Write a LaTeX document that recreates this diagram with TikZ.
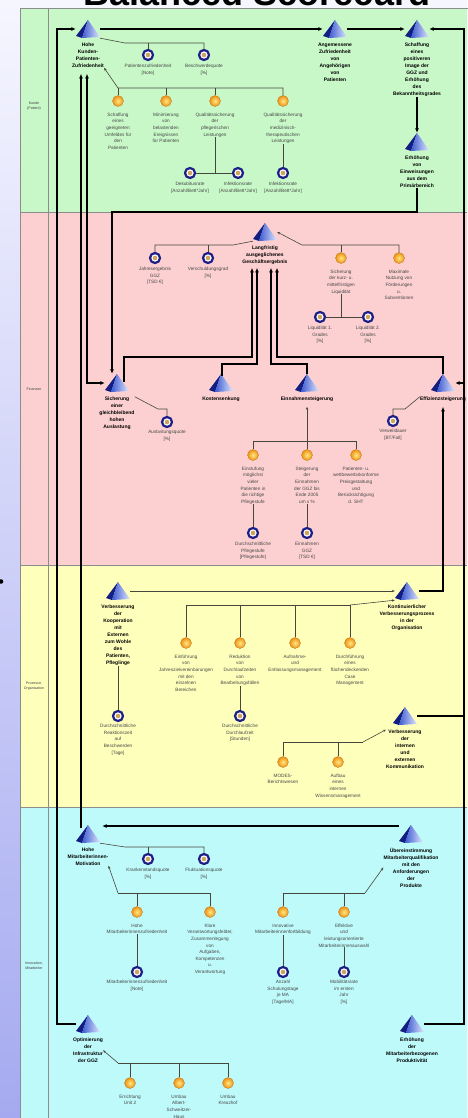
\documentclass[tikz,border=0pt]{standalone}
\usepackage{fontspec}
\setmainfont{Liberation Sans}
\usepackage{tikz}
\usetikzlibrary{positioning,calc,arrows.meta}

\definecolor{gruenbg}{RGB}{200,248,200}
\definecolor{rosabg}{RGB}{252,208,208}
\definecolor{gelbbg}{RGB}{255,255,188}
\definecolor{tuerkisbg}{RGB}{190,250,250}
\definecolor{lilaoben}{RGB}{246,246,255}
\definecolor{lilaunten}{RGB}{165,170,240}
\definecolor{zielring}{RGB}{30,30,135}
\definecolor{zielkern}{RGB}{205,165,90}
\definecolor{kugelhell}{RGB}{255,232,130}
\definecolor{kugel}{RGB}{238,145,20}
\definecolor{pyrdunkel}{RGB}{20,30,130}
\definecolor{pyrmittel}{RGB}{60,90,210}
\definecolor{pyrhell}{RGB}{225,232,252}
\definecolor{linie}{RGB}{70,70,60}

\tikzset{
  pyr/.style={minimum width=24pt, minimum height=18pt, inner sep=0pt, path picture={
    \begin{scope}[shift={(path picture bounding box.center)}]
      \fill[pyrdunkel] (0pt,9pt) -- (-12pt,-7pt) -- (-6pt,-9pt) -- cycle;
      \shade[left color=pyrmittel, right color=pyrhell] (0pt,9pt) -- (-6pt,-9pt) -- (12pt,-8pt) -- cycle;
    \end{scope}}},
  massn/.style={circle, inner sep=0pt, minimum size=11pt, inner color=kugelhell, outer color=kugel, draw=kugel!80!black, line width=0.3pt},
  ziel/.style={circle, inner sep=0pt, minimum size=10pt, draw=zielring, line width=2.2pt, fill=white,
    path picture={\fill[zielkern] (path picture bounding box.center) circle (2.3pt);}},
  ttext/.style={font=\bfseries\fontsize{5}{7}\selectfont, align=center, inner sep=0pt},
  ktext/.style={font=\fontsize{4.7}{6.6}\selectfont, align=center, inner sep=0pt, text=black!72},
  btext/.style={font=\fontsize{3.6}{4.6}\selectfont, align=center, inner sep=0pt, text=black!75},
  dick/.style={draw=black, line width=1.5pt, -{Latex[length=4.5pt,width=4pt]}},
  zweiseitig/.style={draw=black, line width=1.5pt, {Latex[length=4.5pt,width=4pt]}-{Latex[length=4.5pt,width=4pt]}},
  duenn/.style={draw=linie, line width=0.6pt},
  pfeil/.style={-{Stealth[length=3pt,width=2.4pt]}}
}

\begin{document}
\begin{tikzpicture}[x=1pt,y=-1pt]
	\useasboundingbox (0,0) rectangle (467,1118);
	\shade[top color=lilaoben, bottom color=lilaunten] (0,0) rectangle (467,1118);
	\fill[gruenbg] (20,8) rectangle (467,212);
	\fill[rosabg] (20,212) rectangle (467,565);
	\fill[gelbbg] (20,565) rectangle (467,807);
	\fill[tuerkisbg] (20,807) rectangle (467,1118);
	\draw[black!45, line width=0.4pt] (20,8) rectangle (470,1122);
	\draw[black!45, line width=0.4pt] (48,8) -- (48,1118);
	\draw[black!45, line width=0.4pt] (20,212) -- (467,212) (20,565) -- (467,565) (20,807) -- (467,807);
	\fill[black] (1,581.5) circle (2.3);

	\node[font=\bfseries\fontsize{36}{36}\selectfont, anchor=base] (titel) at (257,6) {Balanced Scorecard};

	\node[btext] (bk) at (34,106) {Kunde\\(Patient)};
	\node[btext] (bf) at (34,389) {Finanzen};
	\node[btext] (bp) at (34,686) {Prozesse,\\Organisation};
	\node[btext] (bi) at (34,966) {Innovation,\\Mitarbeiter};

	\node[pyr] (t1) at (88,29) {};
	\node[ttext, below=4.5pt of t1] (t1l) {Hohe\\Kunden-\\Patienten-\\Zufriedenheit};
	\node[pyr] (t2) at (335,29) {};
	\node[ttext, below=4.5pt of t2] (t2l) {Angemessene\\Zufriedenheit\\von\\Angehörigen\\von\\Patienten};
	\node[pyr] (t3) at (417,29) {};
	\node[ttext, below=4.5pt of t3] (t3l) {Schaffung\\eines\\positiveren\\Image der\\GGZ und\\Erhöhung\\des\\Bekanntheitsgrades};
	\node[pyr] (t4) at (417,142) {};
	\node[ttext, below=4.5pt of t4] (t4l) {Erhöhung\\von\\Einweisungen\\aus dem\\Primärbereich};

	\node[ziel] (k1) at (148,55) {};
	\node[ktext, below=3pt of k1] (k1l) {Patientenzufriedenheit\\{}[Note]};
	\node[ziel] (k2) at (204,55) {};
	\node[ktext, below=3pt of k2] (k2l) {Beschwerdequote\\{}[\%]};

	\node[massn] (o1) at (118,101) {};
	\node[ktext, below=6pt of o1] (o1l) {Schaffung\\eines\\geeigneten\\Umfeldes für\\den\\Patienten};
	\node[massn] (o2) at (166,101) {};
	\node[ktext, below=6pt of o2] (o2l) {Minimierung\\von\\belastenden\\Ereignissen\\für Patienten};
	\node[massn] (o3) at (215,101) {};
	\node[ktext, below=6pt of o3] (o3l) {Qualitätssicherung\\der\\pflegerischen\\Leistungen};
	\node[massn] (o4) at (283,101) {};
	\node[ktext, below=6pt of o4] (o4l) {Qualitätssicherung\\der\\medizinisch-\\therapeutischen\\Leistungen};

	\node[ziel] (k3) at (190,173) {};
	\node[ktext, below=3pt of k3] (k3l) {Dekubitusrate\\{}[Anzahl/Bett*Jahr]};
	\node[ziel] (k4) at (238,173) {};
	\node[ktext, below=3pt of k4] (k4l) {Infektionsrate\\{}[Anzahl/Bett*Jahr]};
	\node[ziel] (k5) at (283,173) {};
	\node[ktext, below=3pt of k5] (k5l) {Infektionsrate\\{}[Anzahl/Bett*Jahr]};

	\node[pyr] (t5) at (265,232) {};
	\node[ttext, below=4.5pt of t5] (t5l) {Langfristig\\ausgeglichenes\\Geschäftsergebnis};
	\node[ziel] (k6) at (155,258) {};
	\node[ktext, below=3pt of k6] (k6l) {Jahresergebnis\\GGZ\\{}[TSD €]};
	\node[ziel] (k7) at (208,258) {};
	\node[ktext, below=3pt of k7] (k7l) {Verschuldungsgrad\\{}[\%]};
	\node[massn] (o5) at (341,258) {};
	\node[ktext, below=6pt of o5] (o5l) {Sicherung\\der kurz- u.\\mittelfristigen\\Liquidität};
	\node[massn] (o6) at (399,258) {};
	\node[ktext, below=6pt of o6] (o6l) {Maximale\\Nutzung von\\Förderungen\\u.\\Subventionen};
	\node[ziel] (k8) at (320,317) {};
	\node[ktext, below=3pt of k8] (k8l) {Liquidität 1.\\Grades\\{}[\%]};
	\node[ziel] (k9) at (368,317) {};
	\node[ktext, below=3pt of k9] (k9l) {Liquidität 2.\\Grades\\{}[\%]};

	\node[pyr] (s1) at (117,383) {};
	\node[ttext, below=4.5pt of s1] (s1l) {Sicherung\\einer\\gleichbleibend\\hohen\\Auslastung};
	\node[pyr] (s2) at (221,383) {};
	\node[ttext, below=4.5pt of s2] (s2l) {Kostensenkung};
	\node[pyr] (s3) at (307,383) {};
	\node[ttext, below=4.5pt of s3] (s3l) {Einnahmensteigerung};
	\node[pyr] (s4) at (443,383) {};
	\node[ttext, below=4.5pt of s4] (s4l) {Effizienzsteigerung};
	\node[ziel] (k10) at (167,422) {};
	\node[ktext, below=2pt of k10] (k10l) {Auslastungsquote\\{}[\%]};
	\node[ziel] (k11) at (393,421) {};
	\node[ktext, below=2pt of k11] (k11l) {Verweildauer\\{}[BT/Fall]};

	\node[massn] (o7) at (253,455) {};
	\node[ktext, below=6pt of o7] (o7l) {Einstufung\\möglichst\\vieler\\Patienten in\\die richtige\\Pflegestufe};
	\node[massn] (o8) at (307,455) {};
	\node[ktext, below=6pt of o8] (o8l) {Steigerung\\der\\Einnahmen\\der GGZ bis\\Ende 2005\\um x \%};
	\node[massn] (o9) at (356,455) {};
	\node[ktext, below=6pt of o9] (o9l) {Patienten- u.\\wettbewerbskonforme\\Preisgestaltung\\und\\Berücksichtigung\\d. SHT};
	\node[ziel] (k12) at (253,533) {};
	\node[ktext, below=3pt of k12] (k12l) {Durchschnittliche\\Pflegestufe\\{}[Pflegestufe]};
	\node[ziel] (k13) at (307,533) {};
	\node[ktext, below=3pt of k13] (k13l) {Einnahmen\\GGZ\\{}[TSD €]};

	\node[pyr] (p1) at (118,591) {};
	\node[ttext, below=4.5pt of p1] (p1l) {Verbesserung\\der\\Kooperation\\mit\\Externen\\zum Wohle\\des\\Patienten,\\Pfleglinge};
	\node[pyr] (p2) at (407,591) {};
	\node[ttext, below=4.5pt of p2] (p2l) {Kontinuierlicher\\Verbesserungsprozess\\in der\\Organisation};
	\node[massn] (o10) at (186,643) {};
	\node[ktext, below=6pt of o10] (o10l) {Einführung\\von\\Jahreszielvereinbarungen\\mit den\\einzelnen\\Bereichen};
	\node[massn] (o11) at (240,643) {};
	\node[ktext, below=6pt of o11] (o11l) {Reduktion\\von\\Durchlaufzeiten\\von\\Bearbeitungsfällen};
	\node[massn] (o12) at (295,643) {};
	\node[ktext, below=6pt of o12] (o12l) {Aufnahme-\\und\\Entlassungsmanagement};
	\node[massn] (o13) at (350,643) {};
	\node[ktext, below=6pt of o13] (o13l) {Durchführung\\eines\\flächendeckenden\\Case\\Management};
	\node[ziel] (k14) at (118,716) {};
	\node[ktext, below=2pt of k14] (k14l) {Durchschnittliche\\Reaktionszeit\\auf\\Beschwerden\\{}[Tage]};
	\node[ziel] (k15) at (240,716) {};
	\node[ktext, below=2pt of k15] (k15l) {Durchschnittliche\\Durchlaufzeit\\{}[Stunden]};
	\node[pyr] (p3) at (405,716) {};
	\node[ttext, below=4.5pt of p3] (p3l) {Verbesserung\\der\\internen\\und\\externen\\Kommunikation};
	\node[massn] (o14) at (283,762) {};
	\node[ktext, below=6pt of o14] (o14l) {MODES-\\Berichtswesen};
	\node[massn] (o15) at (338,762) {};
	\node[ktext, below=6pt of o15] (o15l) {Aufbau\\eines\\internen\\Wissensmanagement};

	\node[pyr] (m1) at (88,834) {};
	\node[ttext, below=4.5pt of m1] (m1l) {Hohe\\Mitarbeiterinnen-\\Motivation};
	\node[pyr] (m2) at (411,834) {};
	\node[ttext, below=4.5pt of m2] (m2l) {Übereinstimmung\\Mitarbeiterqualifikation\\mit den\\Anforderungen\\der\\Produkte};
	\node[ziel] (k16) at (148,859) {};
	\node[ktext, below=3pt of k16] (k16l) {Krankenstandsquote\\{}[\%]};
	\node[ziel] (k17) at (204,859) {};
	\node[ktext, below=3pt of k17] (k17l) {Fluktuationsquote\\{}[\%]};
	\node[massn] (o16) at (137,912) {};
	\node[ktext, below=6pt of o16] (o16l) {Hohe\\Mitarbeiterinnenzufriedenheit};
	\node[massn] (o17) at (210,912) {};
	\node[ktext, below=6pt of o17] (o17l) {Klare\\Verantwortungsfelder,\\Zusammenlegung\\von\\Aufgaben,\\Kompetenzen\\u.\\Verantwortung};
	\node[massn] (o18) at (283,912) {};
	\node[ktext, below=6pt of o18] (o18l) {Innovative\\Mitarbeiterinnenfortbildung};
	\node[massn] (o19) at (344,912) {};
	\node[ktext, below=6pt of o19] (o19l) {Effektive\\und\\leistungsorientierte\\Mitarbeiterinnenauswahl};
	\node[ziel] (k18) at (137,972) {};
	\node[ktext, below=2pt of k18] (k18l) {Mitarbeiterinnenzufriedenheit\\{}[Note]};
	\node[ziel] (k19) at (283,972) {};
	\node[ktext, below=2pt of k19] (k19l) {Anzahl\\Schulungstage\\je MA\\{}[Tage/MA]};
	\node[ziel] (k20) at (344,972) {};
	\node[ktext, below=2pt of k20] (k20l) {Mobilitätsrate\\im ersten\\Jahr\\{}[\%]};

	\node[pyr] (m3) at (88,1024) {};
	\node[ttext, below=4.5pt of m3] (m3l) {Optimierung\\der\\Infrastruktur\\der GGZ};
	\node[pyr] (m4) at (412,1024) {};
	\node[ttext, below=4.5pt of m4] (m4l) {Erhöhung\\der\\Mitarbeiterbezogenen\\Produktivität};
	\node[massn] (o20) at (130,1083) {};
	\node[ktext, below=6pt of o20] (o20l) {Errichtung\\Unit 2};
	\node[massn] (o21) at (179,1083) {};
	\node[ktext, below=6pt of o21] (o21l) {Umbau\\Albert-\\Schweitzer-\\Haus};
	\node[massn] (o22) at (228,1083) {};
	\node[ktext, below=6pt of o22] (o22l) {Umbau\\Kreuzhof};

	\coordinate (b1) at (125,43);
	\coordinate (b2) at (118,88);
	\coordinate (b3) at (233,245);
	\coordinate (b4) at (302,245);
	\coordinate (b5) at (158,409);
	\coordinate (b6) at (405,409);
	\coordinate (b7) at (253,441);
	\coordinate (b8) at (186,605);
	\coordinate (b9) at (363,742);
	\coordinate (b10) at (125,847);
	\coordinate (b11) at (118,893);
	\coordinate (b12) at (365,893);
	\coordinate (b13) at (118,1063);
	\coordinate (c1) at (112,212);
	\coordinate (t5u) at ($(t5l.south)+(0,3)$);

	\draw[dick] (t1) -- (t2);
	\draw[dick] (t2) -- (t3);
	\draw[dick] (t3l) -- (t4);
	\draw[dick] (t4l) |- (c1) -- (c1 |- s1.north);
	\draw[dick] (m3) -| (57,29) -- (t1);
	\draw[dick] (m4) -| (464,29) -- (t3);
	\draw[dick] (p3) -| (464,383) -- (s4);
	\draw[dick] ($(m1.north)+(-7,3)$) -- ($(t1l.south)+(-7,6)$);
	\draw[zweiseitig] (s1.west) -| ($(t1l.south)+(-1,6)$);
	\draw[dick] ($(s1.north)+(7,8)$) |- (252,357) -- (252,357 |- t5u);
	\draw[dick] ($(s2.north)+(1,2)$) |- (257,364) -- (257,364 |- t5u);
	\draw[dick] (s3.north) |- (271,364) -- (271,364 |- t5u);
	\draw[dick] (s4.north) |- (277,357) -- (277,357 |- t5u);
	\draw[dick] (p2) -| ($(s4l.south)+(0,5)$);
	\draw[dick] ($(m2.west)+(0,-8)$) -- ($(m1.east)+(2,-8)$);

	\draw[duenn] (t1.south east) -- (b1) -| (k2);
	\draw[duenn] (k1) -- (k1 |- b1);
	\draw[duenn, pfeil] (o4) |- (b2) -- (t1l.south east);
	\draw[duenn] (o1) -- (o1 |- b2);
	\draw[duenn] (o2) -- (o2 |- b2);
	\draw[duenn] (o3) -- (o3 |- b2);
	\draw[duenn] (o3l) -- (o3l |- k3);
	\draw[duenn] (k3) -- (k4);
	\draw[duenn] (o4l) -- (k5);

	\draw[duenn] (t5.south west) -- (b3) -| (k6);
	\draw[duenn] (k7) -- (k7 |- b3);
	\draw[duenn, pfeil] (o6) |- (b4) -- (t5.east);
	\draw[duenn] (o5) -- (o5 |- b4);
	\draw[duenn] (o5l) -- (o5l |- k8);
	\draw[duenn] (k8) -- (k9);
	\draw[duenn] (s1l.north east) -- (b5) -| (k10);
	\draw[duenn] (s4l.north west) -- (b6) -| (k11);
	\draw[duenn] (o7) |- (b7) -| (o9);
	\draw[duenn, pfeil] (o8) -- ($(s3l.south)+(0,5)$);
	\draw[duenn] (o7l) -- (k12);
	\draw[duenn] (o8l) -- (k13);

	\draw[duenn, pfeil] (p1) -- (p2);
	\draw[duenn] (o10) |- (b8) -| (o13);
	\draw[duenn] (o11) -- (o11 |- b8);
	\draw[duenn] (o12) -- (o12 |- b8);
	\draw[duenn, pfeil] (o13 |- b8) -- (p2.south west);
	\draw[duenn] (p1l) -- (k14);
	\draw[duenn] (o11l) -- (k15);
	\draw[duenn] (o14) |- (b9);
	\draw[duenn] (o15) -- (o15 |- b9);
	\draw[duenn, pfeil] (b9) -- (p3l.north west);

	\draw[duenn] (m1.south east) -- (b10) -| (k17);
	\draw[duenn] (k16) -- (k16 |- b10);
	\draw[duenn] (o17) |- (b11);
	\draw[duenn] (o16) -- (o16 |- b11);
	\draw[duenn, pfeil] (b11) -- (m1l.south east);
	\draw[duenn] (o18) |- (b12);
	\draw[duenn] (o19) -- (o19 |- b12);
	\draw[duenn, pfeil] (b12) -- (m2l.west);
	\draw[duenn] (o16l) -- (k18);
	\draw[duenn] (o18l) -- (k19);
	\draw[duenn] (o19l) -- (k20);
	\draw[duenn] (o22) |- (b13);
	\draw[duenn] (o20) -- (o20 |- b13);
	\draw[duenn] (o21) -- (o21 |- b13);
	\draw[duenn, pfeil] (b13) -- (m3l.east);
\end{tikzpicture}
\end{document}
